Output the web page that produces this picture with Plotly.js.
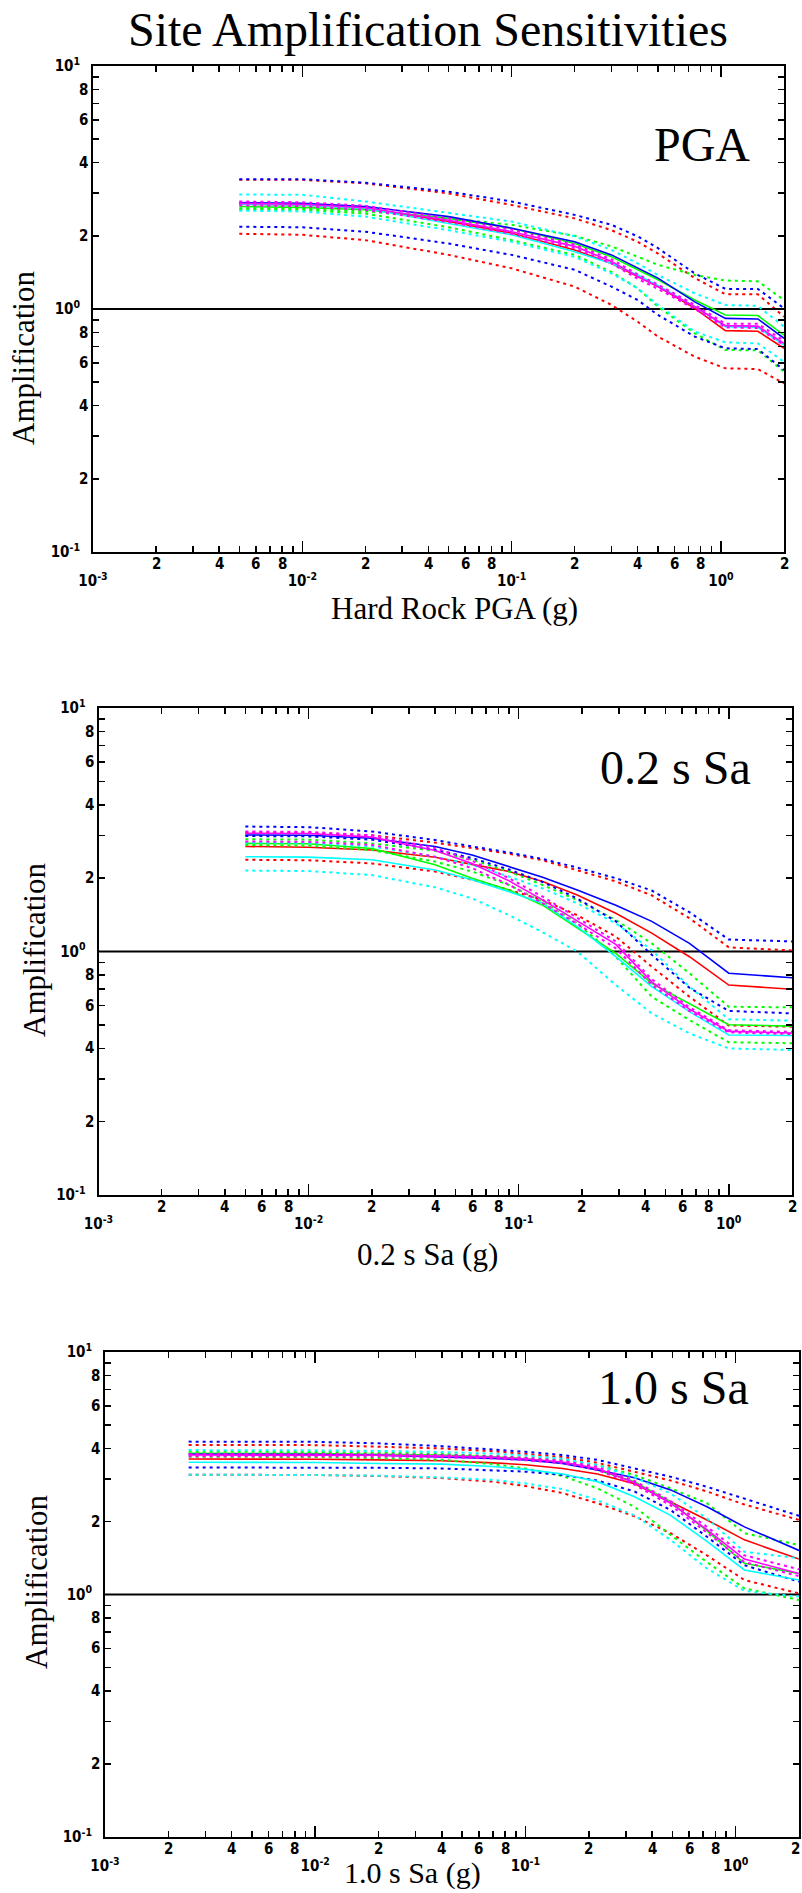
<!DOCTYPE html>
<html>
<head>
<meta charset="utf-8">
<script src="https://cdn.plot.ly/plotly-3.0.1.min.js"></script>
<style>
html,body{margin:0;padding:0;background:#ffffff;}
#chart{width:802px;height:1893px;}
</style>
</head>
<body>
<div id="chart"></div>
<script>
// ---------------- DATA ----------------
const mainTitle = 'Site Amplification Sensitivities';
const panelNames = ['PGA', '0.2 s Sa', '1.0 s Sa'];
const xTitles = ['Hard Rock PGA (g)', '0.2 s Sa (g)', '1.0 s Sa (g)'];
const yTitle = 'Amplification';
const UNITY = 1;

// axis ticks
const X_MIN = 0.001, X_MAX = 2, Y_MIN = 0.1, Y_MAX = 10;
const decadeTicksX = [0.001, 0.01, 0.1, 1];
const decadeTextX = ['10<sup>-3</sup>', '10<sup>-2</sup>', '10<sup>-1</sup>', '10<sup>0</sup>'];
const digitTicksX = [0.002, 0.004, 0.006, 0.008, 0.02, 0.04, 0.06, 0.08, 0.2, 0.4, 0.6, 0.8, 2];
const digitTextX = ['2', '4', '6', '8', '2', '4', '6', '8', '2', '4', '6', '8', '2'];
const minorTicksX = [0.002, 0.003, 0.004, 0.005, 0.006, 0.007, 0.008, 0.009,
  0.02, 0.03, 0.04, 0.05, 0.06, 0.07, 0.08, 0.09,
  0.2, 0.3, 0.4, 0.5, 0.6, 0.7, 0.8, 0.9, 2];
const decadeTicksY = [0.1, 1, 10];
const decadeTextY = ['10<sup>-1</sup>', '10<sup>0</sup>', '10<sup>1</sup>'];
const digitTicksY = [0.2, 0.4, 0.6, 0.8, 2, 4, 6, 8];
const digitTextY = ['2', '4', '6', '8', '2', '4', '6', '8'];
const minorTicksY = [0.2, 0.3, 0.4, 0.5, 0.6, 0.7, 0.8, 0.9, 2, 3, 4, 5, 6, 7, 8, 9];

// ---- Panel 1: PGA ----
const pgaX = [0.005, 0.01, 0.02, 0.05, 0.1, 0.2, 0.3, 0.4, 0.5, 0.75, 1.05, 1.5, 2.0];
const pgaRed      = [2.70, 2.68, 2.60, 2.29, 2.05, 1.75, 1.54, 1.36, 1.236, 1.006, 0.815, 0.81, 0.689];
const pgaRedHi    = [3.40, 3.40, 3.29, 2.99, 2.68, 2.36, 2.11, 1.89, 1.69, 1.34, 1.15, 1.15, 0.93];
const pgaRedLo    = [2.04, 2.02, 1.92, 1.67, 1.47, 1.236, 1.039, 0.886, 0.77, 0.636, 0.57, 0.566, 0.494];
const pgaGreen    = [2.64, 2.62, 2.56, 2.36, 2.15, 1.86, 1.64, 1.45, 1.32, 1.089, 0.945, 0.94, 0.78];
const pgaGreenHi  = [2.60, 2.59, 2.52, 2.36, 2.22, 2.00, 1.81, 1.64, 1.52, 1.38, 1.31, 1.30, 1.089];
const pgaGreenLo  = [2.57, 2.56, 2.47, 2.17, 1.92, 1.67, 1.42, 1.216, 1.022, 0.794, 0.678, 0.676, 0.552];
const pgaBlue     = [2.74, 2.72, 2.64, 2.40, 2.15, 1.89, 1.67, 1.47, 1.34, 1.07, 0.915, 0.91, 0.758];
const pgaBlueHi   = [3.42, 3.42, 3.31, 3.04, 2.77, 2.44, 2.22, 1.99, 1.78, 1.40, 1.21, 1.21, 1.006];
const pgaBlueLo   = [2.18, 2.17, 2.08, 1.86, 1.67, 1.45, 1.236, 1.089, 0.945, 0.77, 0.689, 0.684, 0.561];
const pgaCyan     = [2.70, 2.68, 2.59, 2.25, 2.02, 1.72, 1.54, 1.38, 1.25, 1.022, 0.846, 0.84, 0.71];
const pgaCyanHi   = [2.96, 2.95, 2.77, 2.48, 2.29, 1.99, 1.75, 1.54, 1.38, 1.16, 1.039, 1.03, 0.846];
const pgaCyanLo   = [2.54, 2.52, 2.40, 2.11, 1.89, 1.64, 1.40, 1.216, 1.039, 0.807, 0.729, 0.722, 0.607];
const pgaMagenta  = [2.72, 2.70, 2.61, 2.32, 2.08, 1.81, 1.57, 1.36, 1.236, 1.022, 0.854, 0.85, 0.722];
const pgaMagentaHi= [2.77, 2.75, 2.66, 2.36, 2.12, 1.84, 1.60, 1.39, 1.26, 1.04, 0.87, 0.87, 0.74];
const pgaMagentaLo= [2.67, 2.65, 2.56, 2.28, 2.04, 1.78, 1.54, 1.33, 1.21, 1.00, 0.84, 0.835, 0.71];

// ---- Panel 2: 0.2 s Sa ----
const sa02X = [0.005, 0.01, 0.02, 0.04, 0.06, 0.09, 0.13, 0.19, 0.29, 0.43, 0.65, 1.0, 2.0];
const sa02Red      = [2.70, 2.68, 2.61, 2.44, 2.28, 2.13, 1.94, 1.706, 1.435, 1.19, 0.952, 0.728, 0.70];
const sa02RedHi    = [3.08, 3.07, 3.00, 2.80, 2.66, 2.52, 2.37, 2.16, 1.94, 1.70, 1.37, 1.04, 1.01];
const sa02RedLo    = [2.38, 2.37, 2.30, 2.13, 1.97, 1.79, 1.627, 1.41, 1.151, 0.866, 0.652, 0.497, 0.491];
const sa02Green    = [2.78, 2.77, 2.65, 2.27, 2.00, 1.79, 1.55, 1.245, 0.983, 0.74, 0.612, 0.50, 0.494];
const sa02GreenHi  = [2.89, 2.88, 2.78, 2.59, 2.38, 2.13, 1.876, 1.627, 1.347, 1.08, 0.814, 0.593, 0.59];
const sa02GreenLo  = [2.74, 2.72, 2.61, 2.34, 2.13, 1.876, 1.60, 1.305, 0.952, 0.652, 0.523, 0.424, 0.42];
const sa02Blue     = [3.01, 3.00, 2.92, 2.70, 2.49, 2.23, 2.02, 1.79, 1.55, 1.33, 1.08, 0.814, 0.78];
const sa02BlueHi   = [3.26, 3.24, 3.11, 2.87, 2.70, 2.55, 2.40, 2.21, 2.00, 1.78, 1.45, 1.12, 1.10];
const sa02BlueLo   = [2.98, 2.97, 2.88, 2.62, 2.42, 2.17, 1.93, 1.65, 1.33, 0.97, 0.71, 0.57, 0.557];
const sa02Cyan     = [2.45, 2.44, 2.38, 2.16, 1.97, 1.76, 1.577, 1.265, 0.952, 0.717, 0.566, 0.454, 0.452];
const sa02CyanHi   = [2.80, 2.79, 2.70, 2.45, 2.27, 2.03, 1.817, 1.577, 1.305, 1.014, 0.717, 0.527, 0.52];
const sa02CyanLo   = [2.15, 2.14, 2.06, 1.835, 1.653, 1.41, 1.20, 1.00, 0.728, 0.557, 0.461, 0.40, 0.394];
const sa02Magenta  = [3.06, 3.05, 2.95, 2.60, 2.30, 1.95, 1.63, 1.34, 1.07, 0.75, 0.58, 0.47, 0.463];
const sa02MagentaHi= [3.11, 3.10, 3.00, 2.66, 2.36, 2.00, 1.68, 1.38, 1.10, 0.77, 0.59, 0.475, 0.468];
const sa02MagentaLo= [2.83, 2.82, 2.74, 2.45, 2.20, 1.88, 1.58, 1.30, 1.03, 0.73, 0.57, 0.465, 0.458];

// ---- Panel 3: 1.0 s Sa ----
const sa10X = [0.0025, 0.005, 0.01, 0.02, 0.04, 0.07, 0.1, 0.15, 0.22, 0.33, 0.49, 0.73, 1.1, 2.0];
const sa10Red      = [3.62, 3.62, 3.61, 3.59, 3.56, 3.49, 3.43, 3.31, 3.14, 2.86, 2.41, 2.03, 1.68, 1.40];
const sa10RedHi    = [4.14, 4.14, 4.13, 4.07, 4.00, 3.90, 3.81, 3.69, 3.49, 3.21, 2.95, 2.66, 2.35, 2.03];
const sa10RedLo    = [3.12, 3.12, 3.11, 3.08, 3.02, 2.92, 2.80, 2.62, 2.38, 2.10, 1.79, 1.45, 1.147, 1.011];
const sa10Green    = [3.82, 3.82, 3.81, 3.79, 3.76, 3.70, 3.63, 3.50, 3.26, 2.92, 2.41, 1.83, 1.344, 1.22];
const sa10GreenHi  = [3.88, 3.88, 3.87, 3.85, 3.80, 3.72, 3.66, 3.59, 3.42, 3.11, 2.74, 2.38, 1.79, 1.60];
const sa10GreenLo  = [3.70, 3.70, 3.69, 3.65, 3.59, 3.45, 3.31, 3.08, 2.74, 2.30, 1.76, 1.36, 1.06, 0.95];
const sa10Blue     = [3.79, 3.79, 3.78, 3.75, 3.70, 3.64, 3.59, 3.47, 3.26, 3.03, 2.70, 2.30, 1.90, 1.52];
const sa10BlueHi   = [4.27, 4.27, 4.26, 4.20, 4.09, 3.96, 3.88, 3.76, 3.59, 3.31, 3.06, 2.78, 2.49, 2.11];
const sa10BlueLo   = [3.34, 3.34, 3.33, 3.33, 3.31, 3.26, 3.21, 3.11, 2.95, 2.66, 2.23, 1.73, 1.32, 1.13];
const sa10Cyan     = [3.51, 3.51, 3.50, 3.47, 3.45, 3.37, 3.28, 3.14, 2.92, 2.53, 2.12, 1.655, 1.262, 1.147];
const sa10CyanHi   = [3.94, 3.94, 3.93, 3.91, 3.87, 3.81, 3.74, 3.63, 3.42, 3.04, 2.61, 2.06, 1.50, 1.41];
const sa10CyanLo   = [3.12, 3.12, 3.11, 3.09, 3.04, 2.97, 2.87, 2.72, 2.45, 2.12, 1.68, 1.28, 1.035, 0.98];
const sa10Magenta  = [3.76, 3.76, 3.76, 3.75, 3.72, 3.68, 3.62, 3.52, 3.31, 2.89, 2.38, 1.85, 1.40, 1.22];
const sa10MagentaHi= [3.80, 3.80, 3.80, 3.79, 3.76, 3.72, 3.66, 3.56, 3.36, 2.94, 2.43, 1.90, 1.45, 1.27];
const sa10MagentaLo= [3.72, 3.72, 3.72, 3.71, 3.68, 3.64, 3.58, 3.48, 3.26, 2.84, 2.33, 1.80, 1.36, 1.19];

// ---------------- BUILD ----------------
const W = 802, H = 1893;
const COLORS = ['#ff0000', '#00ff00', '#0000ff', '#00ffff', '#ff00ff'];
const panels = [
  {x: pgaX, series: [[pgaRed, pgaRedHi, pgaRedLo], [pgaGreen, pgaGreenHi, pgaGreenLo], [pgaBlue, pgaBlueHi, pgaBlueLo], [pgaCyan, pgaCyanHi, pgaCyanLo], [pgaMagenta, pgaMagentaHi, pgaMagentaLo]]},
  {x: sa02X, series: [[sa02Red, sa02RedHi, sa02RedLo], [sa02Green, sa02GreenHi, sa02GreenLo], [sa02Blue, sa02BlueHi, sa02BlueLo], [sa02Cyan, sa02CyanHi, sa02CyanLo], [sa02Magenta, sa02MagentaHi, sa02MagentaLo]]},
  {x: sa10X, series: [[sa10Red, sa10RedHi, sa10RedLo], [sa10Green, sa10GreenHi, sa10GreenLo], [sa10Blue, sa10BlueHi, sa10BlueLo], [sa10Cyan, sa10CyanHi, sa10CyanLo], [sa10Magenta, sa10MagentaHi, sa10MagentaLo]]}
];

// pixel boxes of the three axes
const boxes = [
  {l: 93, r: 784, t: 66, b: 552},
  {l: 98.5, r: 792, t: 708, b: 1195},
  {l: 105, r: 799, t: 1352, b: 1837}
];
// text placement (pixels)
const titlePos = {x: 428, base: 47, size: 48};
const panelLabelPos = [{r: 751, base: 162}, {r: 752, base: 785}, {r: 750, base: 1405}];
const xTitlePos = [{x: 454, base: 620, size: 31}, {x: 428, base: 1266, size: 31}, {x: 412, base: 1885, size: 30}];
const yTitlePos = [{x: 23, y: 358}, {x: 34, y: 950}, {x: 36, y: 1582}];

const SERIF = 'Liberation Serif, Times New Roman, serif';
const NARROW = 'Liberation Sans Narrow, DejaVu Sans Condensed, Arial Narrow, sans-serif';
const tickFont = {family: NARROW, size: 15, color: '#000', weight: 'bold'};

const traces = [];
const layout = {
  width: W, height: H,
  margin: {l: 0, r: 0, t: 0, b: 0},
  paper_bgcolor: '#fff', plot_bgcolor: '#fff',
  showlegend: false,
  annotations: [], shapes: []
};

const px2x = p => p / W;
const px2y = p => 1 - p / H;

panels.forEach((p, i) => {
  const xn = i ? 'x' + (i + 1) : 'x';
  const yn = i ? 'y' + (i + 1) : 'y';
  const xk = i ? 'xaxis' + (i + 1) : 'xaxis';
  const yk = i ? 'yaxis' + (i + 1) : 'yaxis';
  const b = boxes[i];

  p.series.forEach((trip, ci) => {
    trip.forEach((ys, k) => {
      traces.push({
        type: 'scatter', mode: 'lines', x: p.x, y: ys, xaxis: xn, yaxis: yn,
        line: {color: COLORS[ci], width: k ? 2 : 1.6, dash: k ? '3px,4px' : 'solid'},
        hoverinfo: 'skip', showlegend: false
      });
    });
  });

  const common = {
    showline: true, linecolor: '#000', linewidth: 2, mirror: 'ticks',
    ticks: 'inside', tickwidth: 1.5, tickcolor: '#000',
    showgrid: false, zeroline: false, fixedrange: true,
    tickfont: tickFont
  };
  layout[xk] = Object.assign({}, common, {
    type: 'log', range: [Math.log10(X_MIN), Math.log10(X_MAX)],
    domain: [px2x(b.l), px2x(b.r)], anchor: yn,
    tickmode: 'array', tickvals: decadeTicksX, ticktext: decadeTextX,
    ticklen: 11, ticklabelstandoff: 14,
    minor: {tickmode: 'array', tickvals: minorTicksX, ticks: 'inside', ticklen: 6, tickwidth: 1.5, tickcolor: '#000', showgrid: false}
  });
  layout[yk] = Object.assign({}, common, {
    type: 'log', range: [Math.log10(Y_MIN), Math.log10(Y_MAX)],
    domain: [px2y(b.b), px2y(b.t)], anchor: xn,
    tickmode: 'array', tickvals: decadeTicksY, ticktext: decadeTextY,
    ticklen: 11, ticklabelstandoff: 8,
    minor: {tickmode: 'array', tickvals: minorTicksY, ticks: 'inside', ticklen: 6, tickwidth: 1.5, tickcolor: '#000', showgrid: false}
  });

  // unity reference line
  layout.shapes.push({
    type: 'line', xref: xn + ' domain', x0: 0, x1: 1, yref: yn, y0: UNITY, y1: UNITY,
    line: {color: '#000', width: 2}, layer: 'below'
  });

  // digit tick labels
  digitTicksX.forEach((v, j) => {
    const atEdge = (v === X_MAX && b.r + 5 > W);
    layout.annotations.push({
      xref: xn, x: Math.log10(v), yref: yn + ' domain', y: 0,
      xanchor: atEdge ? 'right' : 'center', xshift: atEdge ? 3 : 0, yanchor: 'top',
      yshift: -1, text: digitTextX[j], showarrow: false, font: tickFont
    });
  });
  digitTicksY.forEach((v, j) => layout.annotations.push({
    xref: xn + ' domain', x: 0, yref: yn, y: Math.log10(v), xanchor: 'right', yanchor: 'middle',
    xshift: -3, text: digitTextY[j], showarrow: false, font: tickFont
  }));

  // panel label
  const pl = panelLabelPos[i];
  layout.annotations.push({
    xref: 'paper', yref: 'paper', x: px2x(pl.r + 1), y: px2y(pl.base + 0.216 * 48 + 1),
    xanchor: 'right', yanchor: 'bottom', text: panelNames[i], showarrow: false,
    font: {family: SERIF, size: 48, color: '#000'}
  });
  // x title
  const xt = xTitlePos[i];
  layout.annotations.push({
    xref: 'paper', yref: 'paper', x: px2x(xt.x), y: px2y(xt.base + 0.216 * xt.size + 1),
    xanchor: 'center', yanchor: 'bottom', text: xTitles[i], showarrow: false,
    font: {family: SERIF, size: xt.size, color: '#000'}
  });
  // y title
  const yt = yTitlePos[i];
  layout.annotations.push({
    xref: 'paper', yref: 'paper', x: px2x(yt.x), y: px2y(yt.y),
    xanchor: 'center', yanchor: 'middle', textangle: -90, text: yTitle, showarrow: false,
    font: {family: SERIF, size: 31, color: '#000'}
  });
});

// main title
layout.annotations.push({
  xref: 'paper', yref: 'paper', x: px2x(titlePos.x), y: px2y(titlePos.base + 0.216 * titlePos.size + 1),
  xanchor: 'center', yanchor: 'bottom', text: mainTitle, showarrow: false,
  font: {family: SERIF, size: titlePos.size, color: '#000'}
});

Plotly.newPlot('chart', traces, layout, {staticPlot: true, displayModeBar: false});
</script>
</body>
</html>
